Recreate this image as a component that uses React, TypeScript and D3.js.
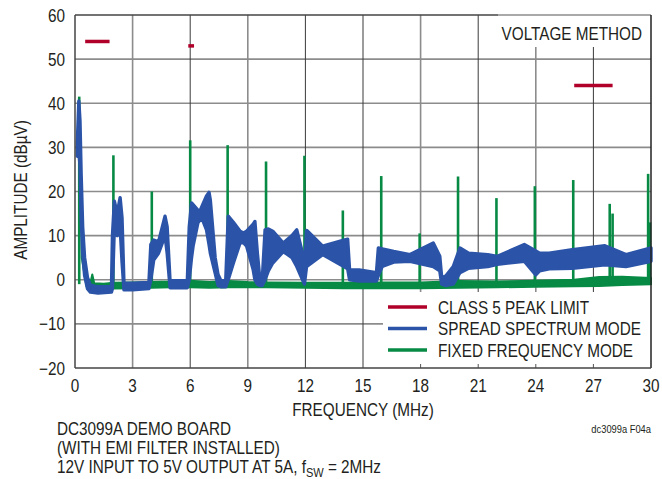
import React from "react";
import * as d3 from "d3";

const xTicks = [0, 3, 6, 9, 12, 15, 18, 21, 24, 27, 30];
const yTicks = [-20, -10, 0, 10, 20, 30, 40, 50, 60];
const darkVLines = [6, 12, 15, 21, 27];

// CISPR 25 class 5 peak limit segments [fStart, fEnd, level]
const limitStart = [0.53, 5.9, 26];
const limitEnd = [1.8, 6.2, 28];
const limitLevel = [54, 53, 44];

// Fixed-frequency mode: harmonic spikes
const spikeFreq = [0.22, 2.0, 4.0, 6.0, 7.95, 9.95, 11.95, 13.95, 15.95, 17.95, 19.95, 21.95, 23.95, 25.95, 27.85, 28.0, 29.85, 29.95];
const spikeLevel = [41.5, 28.2, 20.0, 31.6, 30.5, 26.8, 28.1, 15.7, 23.5, 10.5, 23.4, 18.5, 21.2, 22.6, 17.2, 15.0, 24.0, 13.0];

// Fixed-frequency mode: noise floor band
const floorFreq = [0.35, 0.6, 0.8, 0.9, 1.0, 1.5, 2.0, 3.0, 4.0, 5.0, 6.0, 7.0, 8.0, 9.0, 10.0, 12.0, 14.0, 16.0, 18.0, 20.0, 22.0, 24.0, 26.0, 27.3, 28.5, 30.0];
const floorLo = [5, -1.5, -2.0, -2.0, -2.2, -2.2, -2.0, -1.9, -1.8, -1.7, -1.7, -1.8, -1.7, -1.7, -1.7, -1.8, -1.9, -1.9, -1.9, -1.8, -1.7, -1.6, -1.5, -1.4, -1.2, -1.0];
const floorHi = [12, 1.0, -0.8, 1.2, -0.8, -0.9, -0.7, -0.6, -0.5, -0.4, -0.2, -0.5, -0.3, -0.5, -0.6, -0.7, -0.7, -0.6, -0.6, -0.3, -0.4, -0.2, 0.0, 0.6, 0.7, 0.4];

// Spread spectrum mode: band envelope (lower / upper)
const ssFreq = [0.12, 0.2, 0.26, 0.32, 0.4, 0.5, 0.65, 0.8, 1.2, 1.9, 1.95, 2.05, 2.2, 2.35, 2.45, 2.55, 3.0, 3.85, 3.95, 4.1, 4.35, 4.69, 4.8, 4.95,
  5.85, 5.95, 6.07, 6.15, 6.4, 6.5, 6.65, 6.85, 6.98, 7.05, 7.3, 7.45, 7.6,
  7.85, 7.98, 8.25, 8.6, 8.77, 8.94, 9.28, 9.37, 9.5, 9.63, 9.75,
  9.9, 10.07, 10.3, 10.85, 11.3, 11.55, 11.85, 11.95, 12.06, 12.9, 14.0, 14.2, 14.3, 14.8, 15.7, 15.8, 16.0, 16.6, 17.45, 18.66, 19.0, 19.1, 19.3, 19.7, 20.05, 20.5, 21.5, 22.0, 23.4, 24.0, 24.2, 24.7, 25.9, 27.6, 28.7, 30.0];
const ssLo = [28, 29, 26, 14, 6, 1, -2, -2.8, -3.0, -2.8, -2, 12, 10, 12, 4, -2.3, -2.3, -2.0, 0, 4.5, 6, 10, 6, -1.8,
  -1.8, 0, 5, 7.6, 12.9, 13.5, 13.5, 11.3, 8, 6, 1.5, -1.3, -1.6,
  -1.6, 0, 3.8, 8.4, 8.4, 7.6, 2.3, 0, -1, -1.3, -1.3,
  0, 2, 3.8, 6.4, 5, 3, 0, -1, 3, 5.7, 3, 2.5, 0, -0.3, -0.3, 1, 3, 4, 4.2, 3, 2, -1, -1.3, -1, 1.6, 2.6, 3, 3.5, 4.2, 1.1, 2, 2.5, 2.6, 3.4, 3, 4.2];
const ssHi = [31, 40.5, 36, 24, 12, 5, 0.5, -1.2, -1.6, -1.6, 10, 17.8, 15, 18.6, 14, -0.8, -0.8, -0.6, 8, 9, 8.6, 14.4, 12, -0.2,
  -0.2, 12, 17.4, 17, 15.8, 15.5, 17, 19, 19.8, 18, 5, 1.2, -0.2,
  -0.2, 14.4, 13, 11, 10.6, 11, 12.6, 13.2, 6, 0, -0.2,
  11.3, 11.5, 11, 8.3, 10, 11.3, 6, 2, 11.2, 7.6, 9, 9.2, 2.3, 2.2, 1.6, 7.2, 7, 6.4, 5.7, 8.3, 5.3, 0.5, 0.8, 3, 7.2, 6, 5.7, 5.3, 8, 6.5, 6, 6, 6.8, 7.7, 5.7, 7.2];

const legendLabels = ["CLASS 5 PEAK LIMIT", "SPREAD SPECTRUM MODE", "FIXED FREQUENCY MODE"];

const RED = "#b0002a";
const BLUE = "#2b54a8";
const GREEN = "#078a44";
const INK = "#231f20";
const FONT = "'Liberation Sans', Arial, sans-serif";
const SX = 0.85;

function CT(props: { x: number; y: number; anchor?: string; size?: number; rotate?: number; sx?: number; children: React.ReactNode }) {
  const { x, y, anchor = "start", size = 18, rotate = 0, sx = SX, children } = props;
  return (
    <text transform={`translate(${x},${y}) rotate(${rotate}) scale(${sx},1)`} textAnchor={anchor} fontSize={size} fill={INK}>
      {children}
    </text>
  );
}

export default function App() {
  const W = 662, H = 479;
  const L = 75, R = 651, T = 15, B = 368;
  const x = d3.scaleLinear().domain([0, 30]).range([L, R]);
  const y = d3.scaleLinear().domain([-20, 60]).range([B, T]);

  const floorData = floorFreq.map((f, i) => ({ f, lo: floorLo[i], hi: floorHi[i] }));
  const ssData = ssFreq.map((f, i) => ({ f, lo: ssLo[i], hi: ssHi[i] }));
  const area = d3.area<{ f: number; lo: number; hi: number }>()
    .x(d => x(d.f)).y0(d => y(d.lo)).y1(d => y(d.hi));

  const vmBox = { x0: 498, y0: T, x1: R, y1: 47 };
  const lgBox = { x0: 383, y0: 292, x1: R, y1: B };

  return (
    <svg width={W} height={H} style={{ position: "absolute", left: 0, top: 0, background: "#fff" }} fontFamily={FONT}>
      <rect x={0} y={0} width={W} height={H} fill="#fff" />
      {yTicks.filter(t => t > -20 && t < 60).map(t => (
        <line key={"h" + t} x1={L} x2={R} y1={y(t)} y2={y(t)} stroke="#8c8c8c" strokeWidth={1.6} />
      ))}
      {xTicks.filter(t => t > 0 && t < 30).map(t => {
        const dark = darkVLines.includes(t);
        return (
          <line key={"v" + t} x1={x(t)} x2={x(t)} y1={T} y2={B}
            stroke={dark ? "#3a3a3a" : "#8c8c8c"} strokeWidth={dark ? 1 : 1.6} />
        );
      })}
      <rect x={vmBox.x0} y={vmBox.y0} width={vmBox.x1 - vmBox.x0} height={vmBox.y1 - vmBox.y0} fill="#fff" />
      <CT x={642} y={40} anchor="end">VOLTAGE METHOD</CT>

      <path d={area(floorData) || ""} fill={GREEN} stroke={GREEN} strokeWidth={2} strokeLinejoin="round" />
      {spikeFreq.map((f, i) => (
        <line key={"s" + i} x1={x(f)} x2={x(f)} y1={y(-1)} y2={y(spikeLevel[i])} stroke={GREEN} strokeWidth={2.6} />
      ))}
      <path d={area(ssData) || ""} fill={BLUE} stroke={BLUE} strokeWidth={3.4} strokeLinejoin="round" />

      {limitStart.map((s, i) => (
        <line key={"l" + i} x1={x(s)} x2={x(limitEnd[i])} y1={y(limitLevel[i])} y2={y(limitLevel[i])} stroke={RED} strokeWidth={3.5} />
      ))}

      <rect x={lgBox.x0} y={lgBox.y0} width={lgBox.x1 - lgBox.x0} height={lgBox.y1 - lgBox.y0} fill="#fff" />
      {xTicks.filter(t => t >= 18 && t < 30).map(t => (
        <line key={"tk" + t} x1={x(t)} x2={x(t)} y1={B} y2={B - 4} stroke="#555" strokeWidth={1} />
      ))}
      {legendLabels.map((lab, i) => {
        const yy = 307 + i * 21.5;
        const c = [RED, BLUE, GREEN][i];
        return (
          <g key={lab}>
            <line x1={388} x2={427} y1={yy} y2={yy} stroke={c} strokeWidth={3.5} />
            <CT x={438} y={yy + 6.5}>{lab}</CT>
          </g>
        );
      })}

      <line x1={L} x2={vmBox.x0} y1={T} y2={T} stroke="#444" strokeWidth={1.5} />
      <line x1={vmBox.x0} x2={R} y1={T} y2={T} stroke="#8c8c8c" strokeWidth={1.5} />
      <line x1={L} x2={L} y1={T} y2={B} stroke="#444" strokeWidth={1.5} />
      <line x1={R} x2={R} y1={T} y2={B} stroke="#222" strokeWidth={1.5} />
      <line x1={L} x2={R} y1={B} y2={B} stroke="#444" strokeWidth={1.5} />

      {yTicks.map(t => (
        <CT key={"yl" + t} x={65} y={y(t) + 6.5} anchor="end">
          {t < 0 ? "\u2212" + Math.abs(t) : String(t)}
        </CT>
      ))}
      {xTicks.map(t => (
        <CT key={"xl" + t} x={x(t)} y={392} anchor="middle">{String(t)}</CT>
      ))}
      <CT x={363} y={416} anchor="middle">FREQUENCY (MHz)</CT>
      <CT x={27} y={190} anchor="middle" rotate={-90}>AMPLITUDE (dBµV)</CT>

      <CT x={57} y={435}>DC3099A DEMO BOARD</CT>
      <CT x={57} y={454}>(WITH EMI FILTER INSTALLED)</CT>
      <CT x={57} y={473}>
        12V INPUT TO 5V OUTPUT AT 5A, f<tspan fontSize={13} dy={3.5}>SW</tspan><tspan dy={-3.5}> = 2MHz</tspan>
      </CT>
      <CT x={651} y={433} anchor="end" size={11}>dc3099a F04a</CT>
    </svg>
  );
}
